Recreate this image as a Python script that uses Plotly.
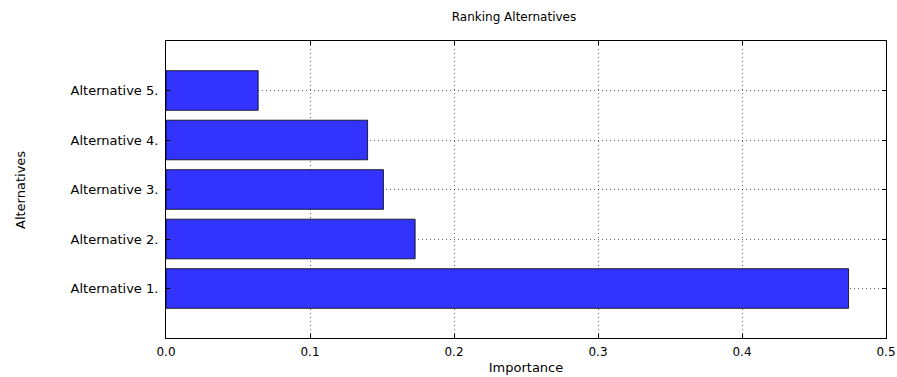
import plotly.graph_objects as go

# Importance scores per alternative
alternatives = ["Alternative 1.", "Alternative 2.", "Alternative 3.", "Alternative 4.", "Alternative 5."]
importance = [0.474, 0.173, 0.151, 0.140, 0.064]
positions = [0, 1, 2, 3, 4]
x_ticks = [0.0, 0.1, 0.2, 0.3, 0.4, 0.5]
x_tick_labels = ["0.0", "0.1", "0.2", "0.3", "0.4", "0.5"]

font_family = "DejaVu Sans"

fig = go.Figure(
    go.Bar(
        x=importance,
        y=positions,
        orientation="h",
        width=0.8,
        marker=dict(color="#3333ff", line=dict(color="rgba(0,0,0,0.8)", width=1)),
        hoverinfo="x+y",
    )
)

axis_common = dict(
    showline=True,
    linecolor="black",
    linewidth=1,
    mirror="ticks",
    ticks="inside",
    ticklen=4,
    tickcolor="black",
    showgrid=True,
    gridcolor="rgba(0,0,0,0.6)",
    griddash="1px,3px",
    gridwidth=1,
    zeroline=False,
    layer="above traces",
    automargin=False,
)

fig.update_xaxes(
    range=[0, 0.5],
    tickvals=x_ticks,
    ticktext=x_tick_labels,
    tickfont=dict(family=font_family, size=12, color="black"),
    ticklabelstandoff=3,
    title=dict(text="Importance", font=dict(family=font_family, size=13, color="black"), standoff=4),
    **axis_common,
)
fig.update_yaxes(
    range=[-1, 5],
    tickvals=positions,
    ticktext=alternatives,
    tickfont=dict(family=font_family, size=13, color="black"),
    ticklabelstandoff=4,
    **axis_common,
)

fig.update_layout(
    width=897,
    height=377,
    margin=dict(l=166, r=11, t=41, b=39),
    paper_bgcolor="white",
    plot_bgcolor="white",
    showlegend=False,
    title=dict(
        text="Ranking Alternatives",
        x=514 / 897,
        xanchor="center",
        y=1 - 17 / 377,
        yanchor="middle",
        font=dict(family=font_family, size=12, color="black"),
    ),
    annotations=[
        dict(
            text="Alternatives",
            xref="paper",
            yref="paper",
            x=(20 - 166) / 720,
            y=(338 - 190) / 297,
            xanchor="center",
            yanchor="middle",
            textangle=-90,
            showarrow=False,
            font=dict(family=font_family, size=13, color="black"),
        )
    ],
)

fig.write_html("out.html")
